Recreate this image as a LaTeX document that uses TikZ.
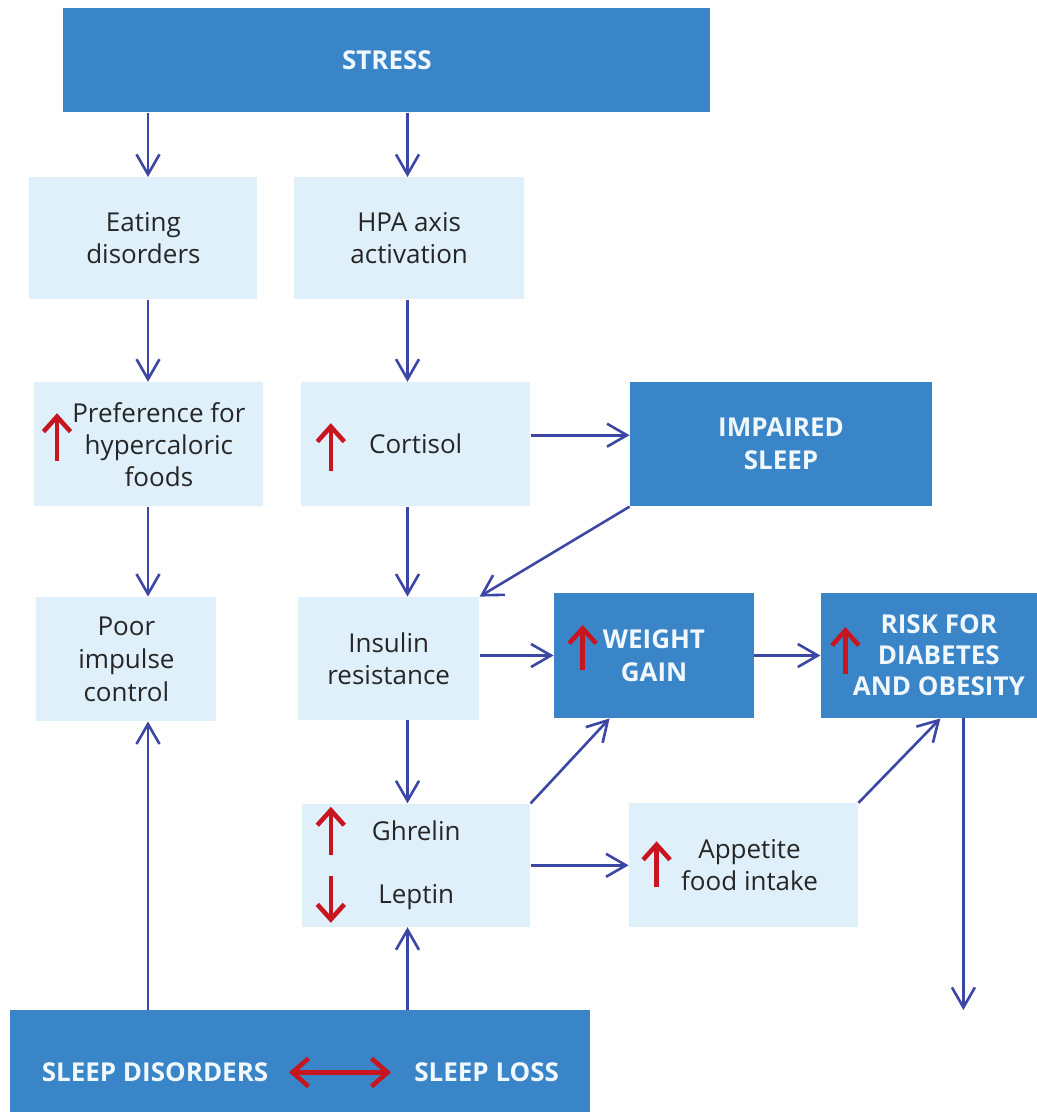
\documentclass[tikz,border=0pt]{standalone}
\usepackage{fontspec}
\setmainfont{Open Sans}
\usetikzlibrary{positioning,arrows.meta}

\definecolor{boxblue}{RGB}{58,133,199}
\definecolor{paleblue}{RGB}{223,240,251}
\definecolor{lineblue}{RGB}{60,70,165}
\definecolor{alertred}{RGB}{200,22,32}
\definecolor{inkgrey}{RGB}{38,38,38}
\definecolor{offwhite}{RGB}{240,247,253}

% pushes a line right to leave room for a red marker
\newcommand{\lpad}[1][10pt]{\hspace*{#1}}

\tikzset{
  % pale step box
  lite/.style  = {rectangle, fill=paleblue, text=inkgrey, align=center,
                  inner sep=0pt, minimum width=114.5pt, minimum height=62pt,
                  font=\fontsize{13}{16}\selectfont},
  % saturated heading box
  dark/.style  = {rectangle, fill=boxblue, text=offwhite, align=center,
                  inner sep=0pt, font=\fontsize{13}{16.5}\selectfont\bfseries},
  % connectors
  flow/.style  = {-{Straight Barb[length=10pt,width=11.5pt]}, line width=1.3pt, lineblue},
  % red up/down markers
  rise/.style  = {-{Straight Barb[length=7.5pt,width=13.5pt]}, line width=2.3pt, alertred},
  mutual/.style = {{Straight Barb[length=8pt,width=14pt]}-{Straight Barb[length=8pt,width=14pt]},
                  line width=2.3pt, alertred},
}

\begin{document}
\begin{tikzpicture}
  \useasboundingbox (0,0) rectangle (518.5pt,-556pt);

  % x positions of the two vertical chains
  \coordinate (colA) at (74pt,0);
  \coordinate (colB) at (203.75pt,0);

  \node[dark, anchor=north west, minimum width=323.5pt, minimum height=52pt]
       (stress) at (31.5pt,-4pt) {STRESS};

  \node[lite, anchor=north west, minimum width=114pt, minimum height=61pt]
       (eat) at (14.5pt,-88.5pt) {Eating\\disorders};
  \node[lite, right=18pt of eat, minimum width=115pt, minimum height=61pt]
       (hpa) {HPA axis\\activation};

  \node[lite, below=41pt of eat.south west, anchor=north west, xshift=2.5pt]
       (pref) {\lpad Preference for\\\lpad hypercaloric\\\lpad foods};
  \node[lite, below=41pt of hpa.south west, anchor=north west, xshift=3.5pt]
       (cort) {Cortisol};
  \node[dark, right=49.5pt of cort, minimum width=151pt, minimum height=62pt]
       (imp) {IMPAIRED\\SLEEP};

  \node[lite, below=45pt of pref.south west, anchor=north west, xshift=1pt,
        minimum width=90pt, font=\fontsize{13}{16.5}\selectfont]
       (poor) {Poor\\impulse\\control};
  \node[lite, below=45pt of cort.south west, anchor=north west, xshift=-1.5pt,
        minimum width=90.5pt, minimum height=61.5pt]
       (ins) {Insulin\\resistance};
  \node[dark, right=37pt of ins, yshift=1.5pt, minimum width=100pt, minimum height=62.5pt]
       (wg) {WEIGHT\\GAIN};
  \node[dark, right=33pt of wg, minimum width=118pt, minimum height=62.5pt,
        font=\fontsize{13}{15.5}\selectfont\bfseries]
       (risk) {RISK FOR\\DIABETES\\AND OBESITY};

  \node[lite, below=41.5pt of ins.south west, anchor=north west, xshift=2pt,
        minimum width=114pt, minimum height=61.5pt]
       (ghl) {Ghrelin\\[15.5pt]Leptin};
  \node[lite, right=49pt of ghl]
       (app) {\lpad[6pt]Appetite\\\lpad[6pt]food intake};

  \node[dark, anchor=north west, minimum width=290pt, minimum height=62pt]
       (sleep) at (5pt,-505pt) {SLEEP DISORDERS\hspace{73pt}SLEEP LOSS};

  % --- vertical chains ---
  \foreach \a/\b/\c in {stress/eat/colA, stress/hpa/colB, eat/pref/colA, hpa/cort/colB,
                        pref/poor/colA, cort/ins/colB, ins/ghl/colB} {
    \draw[flow] (\a.south -| \c) -- (\b.north -| \c);
  }
  \foreach \b/\c in {poor/colA, ghl/colB} {
    \draw[flow] (sleep.north -| \c) -- (\b.south -| \c);
  }

  % --- sideways links ---
  \draw[flow] ([yshift=4.5pt]cort.east) -- ([yshift=4.5pt]cort.east -| imp.west);
  \draw[flow] (ins.east |- wg.west) -- (wg.west);
  \draw[flow] (wg.east) -- (wg.east -| risk.west);
  \draw[flow] (ghl.east) -- (ghl.east -| app.west);

  % --- diagonals ---
  \draw[flow] (imp.south west) -- (ins.north east);
  \draw[flow] (ghl.north east) -- ([xshift=28pt]wg.south west);
  \draw[flow] (app.north east) -- ([xshift=60pt]risk.south west);
  \draw[flow] ([xshift=71.5pt]risk.south west) -- ([xshift=71.5pt]risk.south west |- sleep.north);

  % --- red up/down markers ---
  \draw[rise] ([xshift=11.5pt,yshift=-8.5pt]pref.west) -- ++(0,24pt);
  \draw[rise] ([xshift=15pt,yshift=-13.5pt]cort.west) -- ++(0,24pt);
  \draw[rise] ([xshift=14.5pt,yshift=-7.25pt]wg.west) -- ++(0,22.5pt);
  \draw[rise] ([xshift=12.5pt,yshift=-9.25pt]risk.west) -- ++(0,23.5pt);
  \draw[rise] ([xshift=14.5pt,yshift=5.25pt]ghl.west) -- ++(0,24pt);
  \draw[rise] ([xshift=14.5pt,yshift=-5.25pt]ghl.west) -- ++(0,-23.5pt);
  \draw[rise] ([xshift=14pt,yshift=-11pt]app.west) -- ++(0,23pt);
  \draw[mutual] ([xshift=139.5pt]sleep.west) -- ([xshift=190.5pt]sleep.west);

\end{tikzpicture}
\end{document}
